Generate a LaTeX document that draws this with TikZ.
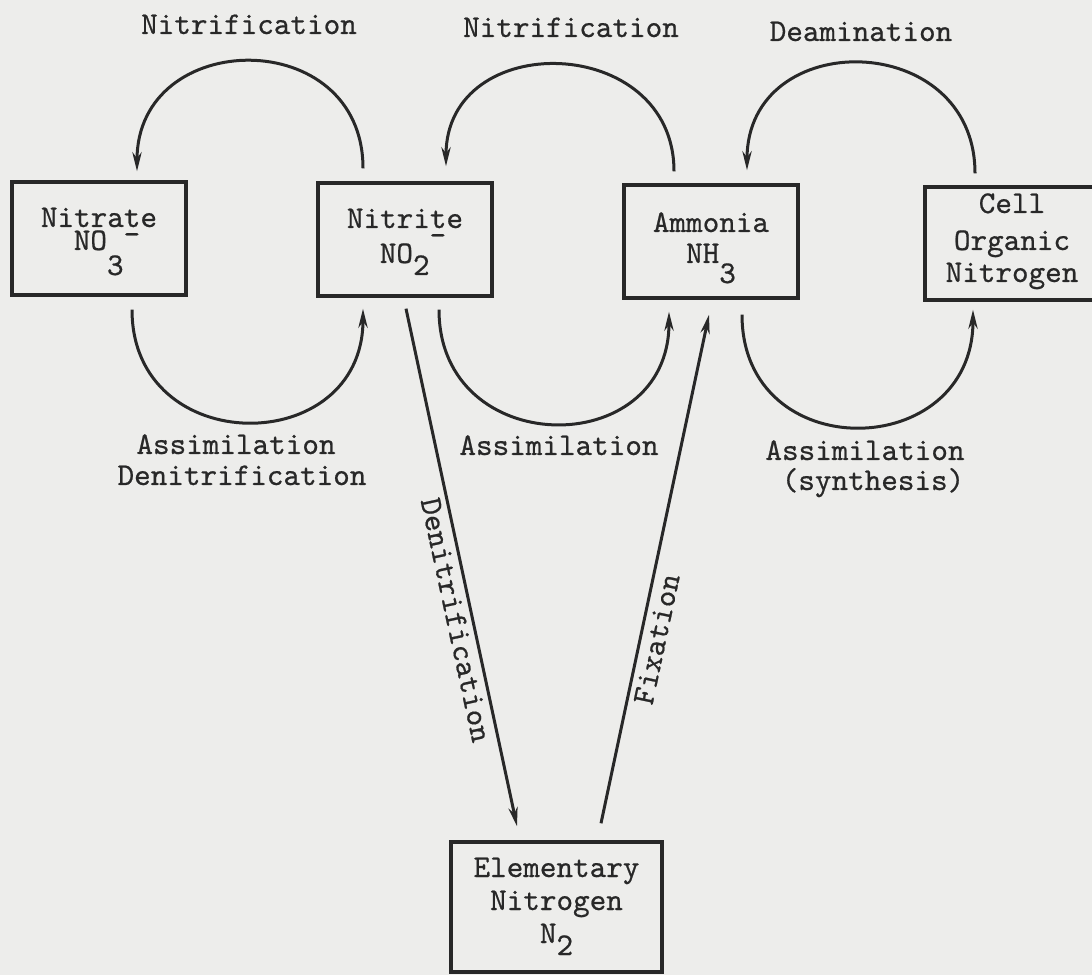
\documentclass[tikz,border=0pt]{standalone}
\usepackage{fontspec}
\usetikzlibrary{arrows.meta,calc}
\newfontfamily\twfont[FakeBold=0.6]{lmmono10-regular.otf}
\definecolor{paper}{RGB}{237,237,235}
\definecolor{ink}{RGB}{40,40,40}
\newcommand{\tw}{\twfont\fontsize{15.8}{16.5}\selectfont}
\newcommand{\lo}[2]{\smash{\raisebox{-#1}{#2}}}
\newcommand{\hi}[2]{\smash{\raisebox{#1}{#2}}}
\newcommand{\toph}{\rule{0pt}{10pt}}
\newcommand{\botd}[1]{\rule[-#1]{0pt}{0pt}}
\tikzset{
  box/.style={draw=ink, line width=1.7pt, rectangle, minimum width=87pt, minimum height=56.5pt,
              align=center, font=\tw, text=ink, inner sep=0pt},
  lbl/.style={font=\tw, text=ink, anchor=base, inner sep=0pt},
  slbl/.style={font=\tw, text=ink, inner sep=2.5pt},
  conn/.style={draw=ink, line width=1.5pt, -{Stealth[length=9.5pt,width=4.6pt,inset=3pt]}},
}
\begin{document}
\begin{tikzpicture}[x=0.5pt,y=0.5pt]
\fill[paper] (0,0) rectangle (1092,975);
\clip (0,0) rectangle (1092,975);
\useasboundingbox (0,0) rectangle (1092,975);

% boxes
\node[box] (nitrate) at (99,736.5) {\toph Nitrate\\[-5pt]\hspace{8pt}NO\lo{12.5pt}{3}\hi{3pt}{-}\botd{10pt}};
\node[box] (nitrite) at (405,735.5) {\toph Nitrite\\[1pt]\hspace{8pt}NO\lo{6pt}{2}\hi{9pt}{-}\botd{4pt}};
\node[box] (ammonia) at (711,733.5) {\toph Ammonia\\[-1pt]NH\lo{10pt}{3}\botd{4pt}};
\node[box] (cell) at (1012,731.5) {\toph Cell\\[2pt]Organic\\[-0.5pt]Nitrogen\botd{6pt}};
\node[box, minimum width=105.5pt, minimum height=65pt] (elem) at (556.5,68) {\toph Elementary\\Nitrogen\\N\lo{6pt}{2}\botd{7pt}};

% top arcs
\draw[conn] ($(nitrite.north)+(-42,13)$) to[out=90,in=90,looseness=1.63] ($(nitrate.north)+(38,9)$);
\draw[conn] ($(ammonia.north)+(-37,12)$) to[out=90,in=90,looseness=1.55] ($(nitrite.north)+(41,15)$);
\draw[conn] ($(cell.north)+(-37,12)$) to[out=90,in=90,looseness=1.62] ($(ammonia.north)+(36,13)$);

% bottom arcs
\draw[conn] ($(nitrate.south)+(33,-13)$) to[out=-90,in=-90,looseness=1.66] ($(nitrite.south)+(-42,-11)$);
\draw[conn] ($(nitrite.south)+(34,-12)$) to[out=-90,in=-90,looseness=1.67] ($(ammonia.south)+(-42,-12)$);
\draw[conn] ($(ammonia.south)+(31,-15)$) to[out=-90,in=-90,looseness=1.69] ($(cell.south)+(-39,-8)$);

% straight connectors
\draw[conn] ($(nitrite.south)+(1,-11)$) -- node[slbl, sloped, below, pos=0.595] {Denitrification} ($(elem.north)+(-39.5,14)$);
\draw[conn] ($(elem.north)+(44.5,17)$) -- node[slbl, sloped, below, pos=0.369] {Fixation} ($(ammonia.south)+(-2,-15)$);

% labels
\node[lbl] (l1) at (249,941) {Nitrification};
\node[lbl] (l2) at (571,938) {Nitrification};
\node[lbl] (l3) at (861,934) {Deamination};
\node[lbl] (b1a) at (236,521) {Assimilation};
\node[lbl] (b1b) at (242,490) {Denitrification};
\node[lbl] (b2) at (559,520) {Assimilation};
\node[lbl] (b3a) at (865,515) {Assimilation};
\node[lbl] (b3b) at (873,485) {(synthesis)};
\end{tikzpicture}
\end{document}
